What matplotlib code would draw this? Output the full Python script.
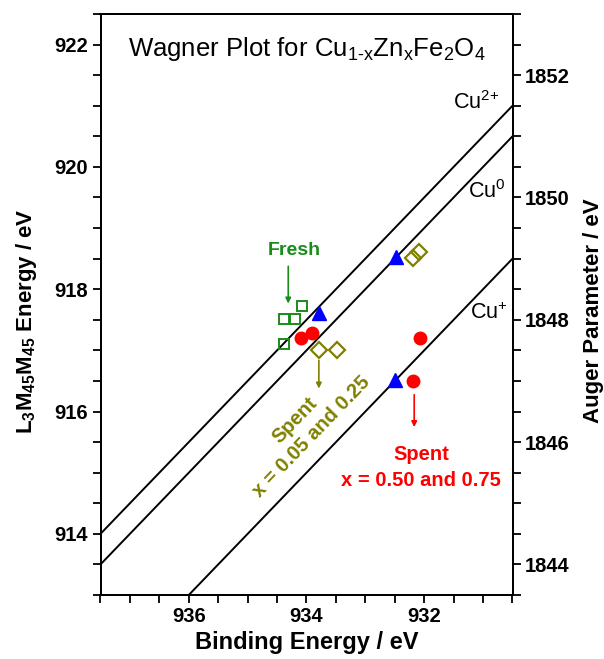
import numpy as np
import matplotlib
matplotlib.use("Agg")
import matplotlib.pyplot as plt
from matplotlib.ticker import MultipleLocator

plt.rcParams['font.family'] = ['Liberation Sans', 'DejaVu Sans']
plt.rcParams['mathtext.fontset'] = 'custom'
plt.rcParams['mathtext.rm'] = 'Liberation Sans'
plt.rcParams['mathtext.it'] = 'Liberation Sans:italic'
plt.rcParams['mathtext.bf'] = 'Liberation Sans:bold'

# Wagner lines: constant Auger parameter (KE + BE)
line_names = ['Cu$^{\\text{2+}}$', 'Cu$^{0}$', 'Cu$^{\\text{+}}$']
line_alpha = [1851.5, 1851.0, 1849.0]
line_label_x = [930.72, 930.62, 930.59]
line_label_y = [921.05, 919.6, 917.6]

# data points (binding energy, kinetic energy)
fresh_be = [934.39, 934.20, 934.08, 934.39]
fresh_ke = [917.52, 917.52, 917.72, 917.11]
tri_be = [933.79, 932.48, 932.50]
tri_ke = [917.61, 918.52, 916.51]
circ_be = [934.10, 933.90, 932.08, 932.19]
circ_ke = [917.21, 917.28, 917.21, 916.50]
dia_be = [933.79, 933.48, 932.19, 932.09]
dia_ke = [917.00, 917.00, 918.51, 918.61]

xlim = (937.5, 930.5)
ylim = (913.0, 922.5)
offset = 930.5

green = '#1a8c1a'
olive = '#808000'

fig = plt.figure(figsize=(6.04, 6.59), dpi=100)
ax = fig.add_axes([100.5 / 604, 64 / 659, 412 / 604, 581 / 659])
ax.set_xlim(*xlim)
ax.set_ylim(*ylim)

be = np.array(xlim)
for name, a, lx, ly in zip(line_names, line_alpha, line_label_x, line_label_y):
    ax.plot(be, a - be, color='black', lw=1.4)
    ax.text(lx, ly, name, ha='right', va='center', fontsize=15.5)

ax.plot(fresh_be, fresh_ke, 's', mfc='none', mec=green, mew=1.4, ms=7.8, ls='none')
ax.plot(tri_be, tri_ke, '^', color='#0000ff', ms=9.5, ls='none')
ax.plot(circ_be, circ_ke, 'o', color='#ff0000', ms=9, ls='none')
ax.plot(dia_be, dia_ke, 'D', mfc='none', mec=olive, mew=1.6, ms=8, ls='none')

ax.text(937.03, 921.92, 'Wagner Plot for Cu$_{\\mathrm{1\\text{-}x}}$Zn$_{\\mathrm{x}}$Fe$_{\\mathrm{2}}$O$_{\\mathrm{4}}$',
        ha='left', va='center', fontsize=18.5)

# annotations
ax.text(934.20, 918.64, 'Fresh', color=green, fontsize=14, fontweight='bold',
        ha='center', va='center')
ax.annotate('', xy=(934.31, 917.72), xytext=(934.31, 918.42),
            arrowprops=dict(arrowstyle='-|>', color=green, lw=1.2, mutation_scale=8))

ax.annotate('', xy=(933.79, 916.33), xytext=(933.79, 916.88),
            arrowprops=dict(arrowstyle='-|>', color=olive, lw=1.2, mutation_scale=8))
ax.annotate('', xy=(932.17, 915.70), xytext=(932.17, 916.32),
            arrowprops=dict(arrowstyle='-|>', color='#ff0000', lw=1.2, mutation_scale=8))

p1 = ax.transData.transform((937.0, 913.5))
p2 = ax.transData.transform((933.0, 917.5))
ang = np.degrees(np.arctan2(p2[1] - p1[1], p2[0] - p1[0]))
ax.text(934.06, 915.72, 'Spent\nx = 0.05 and 0.25', color=olive, fontsize=14.5,
        fontweight='bold', rotation=ang, rotation_mode='anchor',
        ha='center', va='center', multialignment='center', linespacing=1.25)

ax.text(932.05, 915.30, 'Spent', color='#ff0000', fontsize=14.5, fontweight='bold',
        ha='center', va='center')
ax.text(932.06, 914.88, 'x = 0.50 and 0.75', color='#ff0000', fontsize=14.5,
        fontweight='bold', ha='center', va='center')

ax.xaxis.set_major_locator(MultipleLocator(2))
ax.xaxis.set_minor_locator(MultipleLocator(0.5))
ax.yaxis.set_major_locator(MultipleLocator(2))
ax.yaxis.set_minor_locator(MultipleLocator(0.5))
ax.set_xticks([936, 934, 932])

ax.set_xlabel('Binding Energy / eV', fontsize=17, fontweight='bold', labelpad=3)
ax.set_ylabel('$\\mathbf{L_3M_{45}M_{45}}$ Energy / eV', fontsize=16,
              fontweight='bold')
ax.yaxis.set_label_coords(-0.15, 0.472)

ax2 = ax.twinx()
ax2.set_ylim(ylim[0] + offset, ylim[1] + offset)
ax2.yaxis.set_major_locator(MultipleLocator(2))
ax2.yaxis.set_minor_locator(MultipleLocator(0.5))
ax2.set_ylabel('Auger Parameter / eV', fontsize=16, fontweight='bold')
ax2.yaxis.set_label_coords(1.172, 0.49)

for a in (ax, ax2):
    a.tick_params(which='major', direction='out', length=6, width=1.3, labelsize=14.5, pad=3)
    a.tick_params(which='minor', direction='out', length=5.5, width=1.3)
    for lbl in a.get_xticklabels() + a.get_yticklabels():
        lbl.set_fontweight('bold')
    for s in a.spines.values():
        s.set_linewidth(1.4)
ax.tick_params(right=False, which='both')

fig.savefig('out.png', dpi=100)
